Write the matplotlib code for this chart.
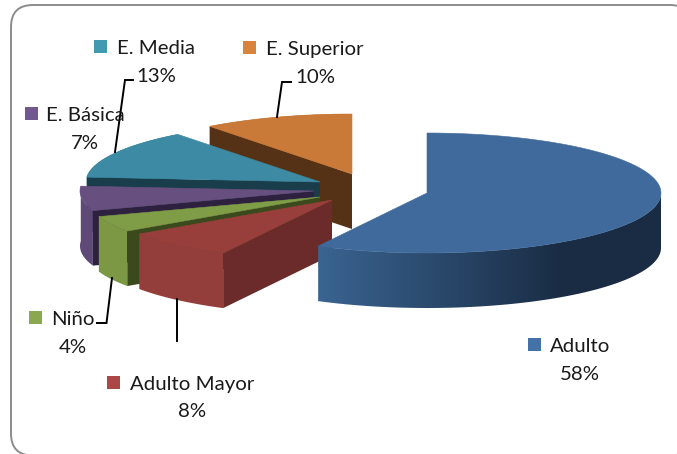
import numpy as np
import matplotlib
matplotlib.use('Agg')
import matplotlib.pyplot as plt
from matplotlib.patches import Polygon, FancyBboxPatch, Rectangle
from matplotlib.colors import to_rgb

plt.rcParams['font.family'] = ['Lato', 'DejaVu Sans']

categories = ['Adulto', 'Adulto Mayor', 'Niño', 'E. Básica', 'E. Media', 'E. Superior']
# they round to the printed labels
shares = [57.7, 7.7, 4.3, 6.6, 13.3, 10.4]

# slice look
top_colors = ['#3f6a9b', '#983f3c', '#7f9c47', '#67507f', '#3c8aa3', '#c97a38']
front_colors = ['#3d6694', '#943e3b', '#7c9845', '#5f4a77', '#2f6d82', '#b56d32']
side_colors = ['#1a2c44', '#6b2b2a', '#3a4a1d', '#2e213f', '#1a3d4c', '#553216']
marker_colors = ['#4472a6', '#ab4744', '#89a84f', '#71588f', '#429ab0', '#d9843c']

# exploded apex of every slice, in pixels
apex_x = [427, 332, 320, 314, 320, 352]
apex_y = [193, 200, 197, 191, 182, 174]
RX, RY, DEPTH = 234, 60, 55

fig = plt.figure(figsize=(6.77, 4.54), dpi=100)
ax = fig.add_axes([0, 0, 1, 1])
ax.axis('off')

ax.add_patch(FancyBboxPatch((11, 5), 681, 450.5, boxstyle='round,pad=0,rounding_size=22',
                            fc='white', ec='#8c8c8c', lw=1.4))


def arc(cx, cy, a0, a1, n=80):
    t = np.radians(np.linspace(a0, a1, n))
    return cx + RX * np.sin(t), cy - RY * np.cos(t)


edges = np.cumsum([0] + shares) / sum(shares) * 360

# back slices first, Adulto last since it sits in front of the red wall
for i in [5, 4, 3, 2, 1, 0]:
    a0, a1 = edges[i], edges[i + 1]
    cx, cy = apex_x[i], apex_y[i]
    x, y = arc(cx, cy, a0, a1)

    if i == 0:
        # gradient wall of the big slice, an image clipped to the wall shape
        xs, ys = arc(cx, cy, 90, a1, 160)
        pts = list(zip(xs, ys)) + list(zip(xs[::-1], ys[::-1] + DEPTH))
        wall = Polygon(pts, fc='none', ec='none')
        ax.add_patch(wall)
        f = np.clip(np.linspace(0, 1, 256) * 343 / 245, 0, 1)[None, :, None]
        grad = np.array(to_rgb('#3a6491'))[None, None, :] * (1 - f) + np.array(to_rgb(side_colors[0]))[None, None, :] * f
        im = ax.imshow(grad, extent=(318, 661, 320, 180), aspect='auto', zorder=1.5)
        im.set_clip_path(wall)
    else:
        pts = list(zip(x, y)) + list(zip(x[::-1], y[::-1] + DEPTH))
        ax.add_patch(Polygon(pts, fc=front_colors[i], ec='none'))
        # radial wall on the clockwise start side
        px, py = x[0], y[0]
        pts = [(cx, cy), (px, py), (px, py + DEPTH), (cx, cy + DEPTH)]
        ax.add_patch(Polygon(pts, fc=side_colors[i], ec='none'))

    # top face
    pts = [(cx, cy)] + list(zip(x, y))
    ax.add_patch(Polygon(pts, fc=top_colors[i], ec=top_colors[i], lw=0.4,
                         zorder=1.6 if i == 0 else 1))

# leader lines
leaders = [
    ([177, 177], [299, 341]),
    ([112, 106.5, 97], [278, 323, 323]),
    ([115, 125, 133], [152, 80, 80]),
    ([277, 282, 291], [117, 82, 82]),
]
for lx, ly in leaders:
    ax.plot(lx, ly, color='black', lw=1.4, solid_joinstyle='miter', zorder=3)

# labels: marker x, marker y, text centre x, name y, share y
label_pos = [
    (528, 338, 580, 346.5, 374.5),
    (107, 376, 192.5, 384.5, 411.5),
    (29, 311, 72.5, 319.5, 347.5),
    (25, 107, 85, 115.5, 143.5),
    (94, 40, 156, 48.5, 76.5),
    (243, 41, 315, 49.5, 77.5),
]
for i, (mx, my, tx, ny, sy) in enumerate(label_pos):
    ax.add_patch(Rectangle((mx, my), 12.5, 12.5, fc=marker_colors[i], ec='none', zorder=5))
    ax.text(tx, ny, categories[i], ha='center', va='center', fontsize=14.7, color='#1a1a1a', zorder=6)
    ax.text(tx, sy, f'{round(shares[i])}%', ha='center', va='center', fontsize=14.7, color='#1a1a1a', zorder=6)

ax.set_xlim(0, 677)
ax.set_ylim(454, 0)
fig.savefig('out.png', dpi=100)
